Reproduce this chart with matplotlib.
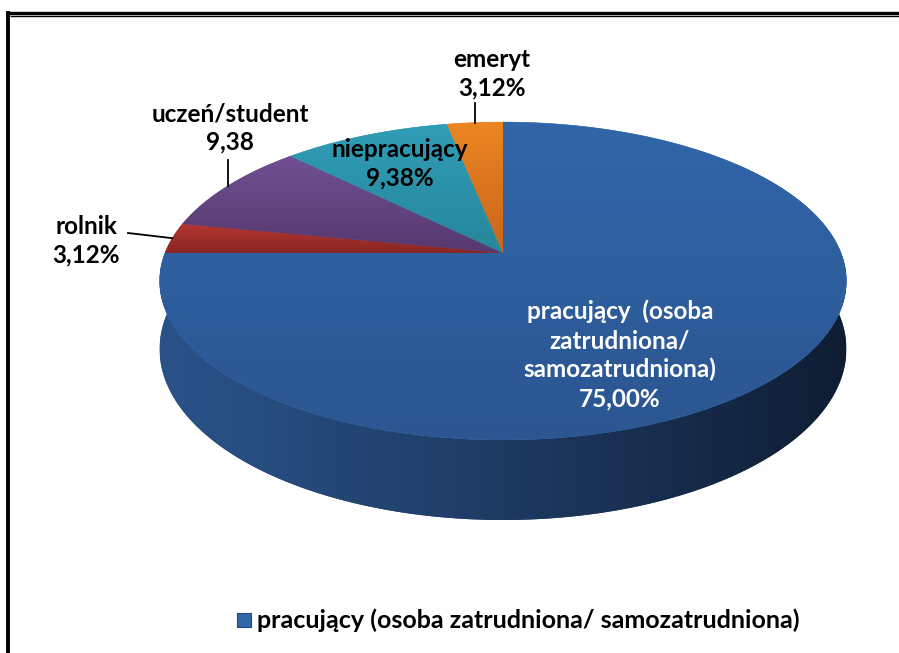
import numpy as np
import matplotlib.pyplot as plt
from matplotlib.patches import Polygon, Rectangle
from matplotlib.colors import to_rgb

# data, clockwise from 12 o'clock
categories = ['pracujący (osoba zatrudniona/ samozatrudniona)', 'rolnik',
              'uczeń/student', 'niepracujący', 'emeryt']
values = [75.00, 3.12, 9.38, 9.38, 3.12]
label_names = ['pracujący  (osoba\nzatrudniona/\nsamozatrudniona)', 'rolnik',
               'uczeń/student', 'niepracujący', 'emeryt']
label_values = ['75,00%', '3,12%', '9,38', '9,38%', '3,12%']
top_colors = ['#3166A9', '#B5372F', '#6F5092', '#309DB6', '#EC8522']
low_colors = ['#2B5691', '#8A2623', '#56396E', '#26869B', '#C8651A']

W, H = 899, 653
cx, cy = 503, 253      # apex of slices (px)
A, B, p = 338, 154, 0.176
depth = 66
plt.rcParams['font.family'] = ['Lato', 'DejaVu Sans']


def proj(theta):
    t = np.radians(theta)
    u, v = np.sin(t), -np.cos(t)
    w = 1 - p * v
    return cx + A * u / w, cy + B * v / w, w


def mix(c1, c2, f):
    c1, c2 = np.array(to_rgb(c1)), np.array(to_rgb(c2))
    return c1 * (1 - f) + c2 * f


fig = plt.figure(figsize=(W / 100, H / 100), dpi=100)
ax = fig.add_axes([0, 0, 1, 1])

# side of the cake (gradient clipped to the side outline)
th = np.linspace(50, 310, 400)
x, y, w = proj(th)
d = depth / w
side_pts = np.vstack([np.column_stack([x, y]), np.column_stack([x, y + d])[::-1]])
side = Polygon(side_pts, closed=True, facecolor='#1F3D68', edgecolor='none', zorder=1)
ax.add_patch(side)
fx = np.linspace(0, 1, 128)
sgrad = np.array([mix('#2A5288', '#0F1D33', f ** 1.15) for f in fx])[None, :, :]
sgrad = np.repeat(sgrad, 2, axis=0)
im = ax.imshow(sgrad, extent=(cx - A - 5, cx + A + 5, side_pts[:, 1].max(), cy),
               aspect='auto', interpolation='bilinear', origin='upper', zorder=1.5)
im.set_clip_path(side)

# top faces
total = sum(values)
start = 0
mids = []
for val, c1, c2 in zip(values, top_colors, low_colors):
    span = 360 * val / total
    a = np.linspace(start, start + span, max(int(span * 2), 4))
    px, py, _ = proj(a)
    pts = np.vstack([[cx, cy], np.column_stack([px, py])])
    poly = Polygon(pts, closed=True, facecolor=c1, edgecolor=c1, lw=0.3, zorder=2)
    ax.add_patch(poly)
    y0, y1 = pts[:, 1].min(), pts[:, 1].max()
    grad = np.array([mix(c1, c2, f) for f in np.linspace(0, 1, 64)])[:, None, :]
    grad = np.repeat(grad, 2, axis=1)
    im = ax.imshow(grad, extent=(pts[:, 0].min() - 1, pts[:, 0].max() + 1, y1, y0),
                   aspect='auto', interpolation='bilinear', origin='upper', zorder=2.5)
    im.set_clip_path(poly)
    mids.append(start + span / 2)
    start += span

# labels
kw = dict(ha='center', va='center', fontsize=17.5, fontweight='bold', linespacing=1.3, zorder=5)
ax.text(620, 355, label_names[0] + '\n' + label_values[0], color='white', **kw)
ax.text(86, 241, label_names[1] + '\n' + label_values[1], color='black', **kw)
ax.text(230, 128, label_names[2] + '\n' + label_values[2], color='black', **kw)
ax.text(400, 164, label_names[3] + '\n' + label_values[3], color='black', **kw)
ax.text(492, 74, label_names[4] + '\n' + label_values[4], color='black', **kw)

# leader lines
ex, ey, _ = proj(np.array(mids))
ax.plot([128, ex[1]], [233, ey[1]], color='black', lw=1.3, zorder=4)
ax.plot([ex[2], ex[2]], [160, ey[2]], color='black', lw=1.3, zorder=4)
ax.plot([ex[4], ex[4]], [103, ey[4]], color='black', lw=1.3, zorder=4)

# legend
ax.add_patch(Rectangle((237, 613), 14, 14, facecolor=top_colors[0], edgecolor='#24497A', lw=0.8))
ax.text(257, 620, categories[0], ha='left', va='center', fontsize=18,
        fontweight='bold', color='black')

# frame
ax.plot([6, W], [12.5, 12.5], color='black', lw=2.4, solid_capstyle='butt')
ax.plot([10, W], [16, 16], color='black', lw=1.0, solid_capstyle='butt')
ax.plot([8, 8], [11, H], color='black', lw=2.8, solid_capstyle='butt')

ax.set_xlim(0, W)
ax.set_ylim(H, 0)
ax.axis('off')
fig.savefig('out.png', dpi=100)
